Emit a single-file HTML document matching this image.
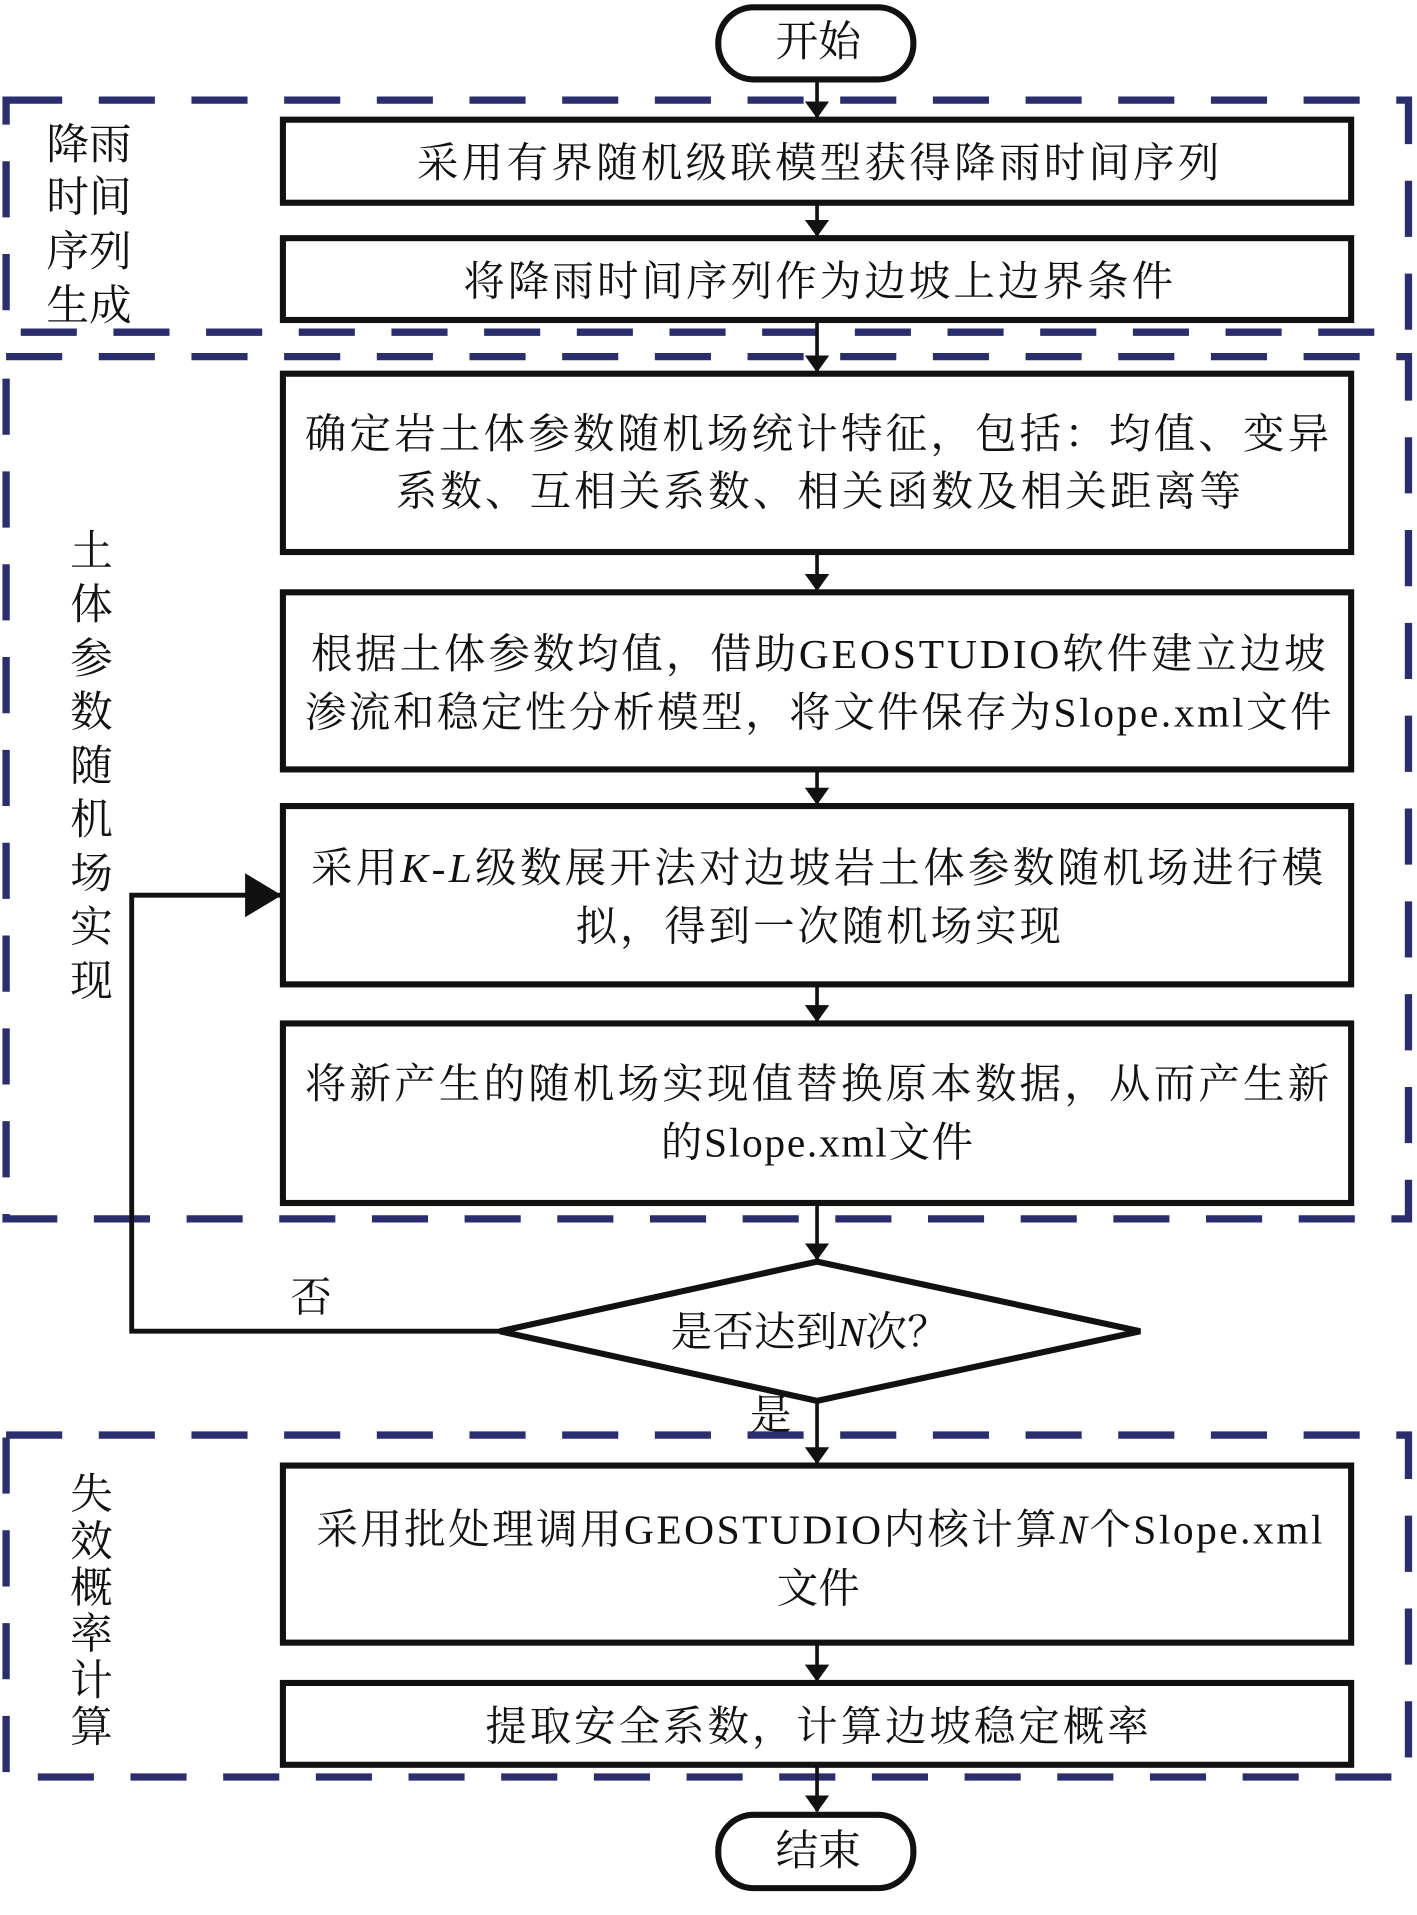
<!DOCTYPE html>
<html><head><meta charset="utf-8"><style>
html,body{margin:0;padding:0;background:#fff}
svg{display:block}
text{font-family:"Liberation Serif","Noto Serif CJK SC",serif;fill:#111}
</style></head><body>
<svg width="1417" height="1915" viewBox="0 0 1162 1568" preserveAspectRatio="none" xmlns="http://www.w3.org/2000/svg">
<defs>
<marker id="a" markerWidth="14" markerHeight="20" refX="13" refY="10" orient="auto" markerUnits="userSpaceOnUse" viewBox="0 0 14 20"><path d="M0,0 L14,10 L0,20 z" fill="#111"/></marker>
<marker id="b" markerWidth="30" markerHeight="36" refX="29" refY="18" orient="auto" markerUnits="userSpaceOnUse" viewBox="0 0 30 36"><path d="M0,0 L30,18 L0,36 z" fill="#111"/></marker>
</defs>
<g fill="none" stroke="#2a2d6e" stroke-width="6" stroke-dasharray="46 30">
<rect x="5" y="82" width="1150" height="190"/>
<rect x="5" y="292" width="1150" height="706"/>
<rect x="5" y="1175" width="1150" height="280"/>
</g>
<g stroke="#111" stroke-width="3" fill="none">
<line x1="670" y1="65" x2="670" y2="96" marker-end="url(#a)"/>
<line x1="670" y1="166" x2="670" y2="193" marker-end="url(#a)"/>
<line x1="670" y1="262" x2="670" y2="304" marker-end="url(#a)"/>
<line x1="670" y1="452" x2="670" y2="483" marker-end="url(#a)"/>
<line x1="670" y1="630" x2="670" y2="658" marker-end="url(#a)"/>
<line x1="670" y1="806" x2="670" y2="836" marker-end="url(#a)"/>
<line x1="670" y1="985" x2="670" y2="1031" marker-end="url(#a)"/>
<line x1="670" y1="1147" x2="670" y2="1198" marker-end="url(#a)"/>
<line x1="670" y1="1345" x2="670" y2="1376" marker-end="url(#a)"/>
<line x1="670" y1="1445" x2="670" y2="1483" marker-end="url(#a)"/>
<polyline points="410,1090 108,1090 108,733 230,733" stroke-width="4" marker-end="url(#b)"/>
</g>
<g stroke="#111" stroke-width="5" fill="#fff">
<rect x="589" y="6" width="160" height="59" rx="29"/>
<rect x="589" y="1486" width="160" height="60" rx="29"/>
<rect x="232" y="98" width="876" height="68"/>
<rect x="232" y="195" width="876" height="67"/>
<rect x="232" y="306" width="876" height="146"/>
<rect x="232" y="485" width="876" height="145"/>
<rect x="232" y="660" width="876" height="146"/>
<rect x="232" y="838" width="876" height="147"/>
<polygon points="670,1033 935,1090 670,1147 410,1090"/>
<rect x="232" y="1200" width="876" height="145"/>
<rect x="232" y="1378" width="876" height="67"/>
</g>
<g font-size="34" text-anchor="middle">
<text x="671" y="46" font-size="35" textLength="70">开始</text>
<text x="671" y="1527" font-size="35" textLength="70">结束</text>
<text x="671" y="145" textLength="658">采用有界随机级联模型获得降雨时间序列</text>
<text x="671" y="242" textLength="582">将降雨时间序列作为边坡上边界条件</text>
<text x="670" y="367" textLength="840">确定岩土体参数随机场统计特征，包括：均值、变异</text>
<text x="671" y="414" textLength="693">系数、互相关系数、相关函数及相关距离等</text>
<text x="671" y="547" textLength="832">根据土体参数均值，借助GEOSTUDIO软件建立边坡</text>
<text x="671" y="595" textLength="842">渗流和稳定性分析模型，将文件保存为Slope.xml文件</text>
<text x="670" y="722" textLength="830">采用<tspan font-style="italic">K-L</tspan>级数展开法对边坡岩土体参数随机场进行模</text>
<text x="671" y="770" textLength="398">拟，得到一次随机场实现</text>
<text x="670" y="899" textLength="840">将新产生的随机场实现值替换原本数据，从而产生新</text>
<text x="670" y="947" textLength="256">的Slope.xml文件</text>
<text x="664" y="1102" textLength="228">是否达到<tspan font-style="italic">N</tspan>次？</text>
<text x="672" y="1264" textLength="825">采用批处理调用GEOSTUDIO内核计算<tspan font-style="italic">N</tspan>个Slope.xml</text>
<text x="671" y="1312" textLength="68">文件</text>
<text x="670" y="1425" textLength="544">提取安全系数，计算边坡稳定概率</text>
<text x="255" y="1074">否</text>
<text x="632" y="1170">是</text>
</g>
<g font-size="35" text-anchor="middle">
<text x="73" y="130">降雨</text>
<text x="73" y="173">时间</text>
<text x="73" y="218">序列</text>
<text x="73" y="262">生成</text>
</g>
<g font-size="35" text-anchor="middle">
<text x="75" y="463">土</text><text x="75" y="507">体</text><text x="75" y="551">参</text><text x="75" y="595">数</text><text x="75" y="639">随</text><text x="75" y="683">机</text><text x="75" y="727">场</text><text x="75" y="771">实</text><text x="75" y="815">现</text>
<text x="75" y="1235">失</text><text x="75" y="1274">效</text><text x="75" y="1312">概</text><text x="75" y="1350">率</text><text x="75" y="1388">计</text><text x="75" y="1426">算</text>
</g>
</svg>
</body></html>
